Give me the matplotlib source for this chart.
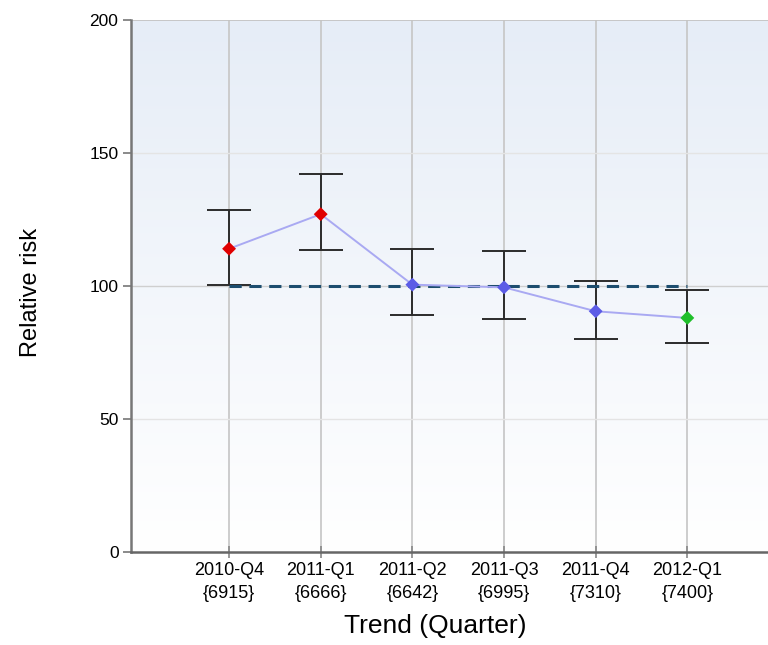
import numpy as np
import matplotlib.pyplot as plt
from matplotlib.colors import LinearSegmentedColormap

quarters = ["2010-Q4", "2011-Q1", "2011-Q2", "2011-Q3", "2011-Q4", "2012-Q1"]
counts = [6915, 6666, 6642, 6995, 7310, 7400]
rr = [114, 127, 100.5, 99.5, 90.5, 88]
rr_low = [100.5, 113.5, 89, 87.5, 80, 78.5]
rr_high = [128.5, 142, 114, 113, 102, 98.5]
signal = ["high", "high", "none", "none", "none", "low"]
reference = 100

sig_colors = {"high": "#e00000", "none": "#5c5ce6", "low": "#1fbf2a"}

plt.rcParams["font.family"] = ["Liberation Sans", "DejaVu Sans"]

fig = plt.figure(figsize=(7.68, 6.45), dpi=100)
ax = fig.add_axes([131 / 768, 93 / 645, 1 - 131 / 768, 532 / 645])

x = np.arange(len(quarters))
rr_a = np.array(rr)
yerr = [rr_a - np.array(rr_low), np.array(rr_high) - rr_a]

# background gradient, white at bottom to pale blue at top
grad = np.linspace(0, 1, 256).reshape(-1, 1)
cmap = LinearSegmentedColormap.from_list("bg", ["#ffffff", "#e6edf7"])
ax.imshow(grad, cmap=cmap, extent=[0, 1, 0, 1], transform=ax.transAxes,
          aspect="auto", origin="lower", zorder=0)

ax.set_xlim(-1.07, 5.88)
ax.set_ylim(0, 200)

for xi in x:
    ax.axvline(xi, color="#c9c9c9", lw=1.3, zorder=1)
for yi in [50, 150]:
    ax.axhline(yi, color="#e4e4e4", lw=1.0, zorder=1)
ax.axhline(100, color="#cfcfcf", lw=1.0, zorder=1)
ax.axhline(200, color="#c4c4c4", lw=1.3, zorder=1)

ax.errorbar(x, rr, yerr=yerr, fmt="none", ecolor="#2b2b2b", elinewidth=1.4,
            capsize=16, capthick=1.4, zorder=3)
ax.plot([x[0], x[-1]], [reference, reference], color="#1d4d6e", lw=2.2,
        dashes=(4, 2.5), zorder=4)
ax.plot(x, rr, color="#a9a9f2", lw=1.4, zorder=4)
ax.scatter(x, rr, marker="D", s=50, c=[sig_colors[s] for s in signal],
           edgecolors="none", zorder=5)

ax.set_xticks(x)
ax.set_xticklabels([f"{q}\n{{{c}}}" for q, c in zip(quarters, counts)],
                   fontsize=13, linespacing=1.5)
ax.set_yticks([0, 50, 100, 150, 200])
ax.tick_params(axis="y", labelsize=12.5, length=6, width=1.2, color="#777777", pad=3)
ax.tick_params(axis="x", direction="inout", length=8, width=1.2, color="#888888", pad=3)

for s in ["top", "right"]:
    ax.spines[s].set_visible(False)
ax.spines["left"].set_color("#777777")
ax.spines["left"].set_linewidth(1.8)
ax.spines["bottom"].set_color("#666666")
ax.spines["bottom"].set_linewidth(1.8)

ax.set_xlabel("Trend (Quarter)", fontsize=19)
ax.set_ylabel("Relative risk", fontsize=17)
ax.xaxis.set_label_coords((435 - 131) / (768 - 131), -(614 - 552) / 532)
ax.yaxis.set_label_coords(-(131 - 42) / (768 - 131), (552 - 292) / 532)

fig.savefig("out.png", dpi=100)
